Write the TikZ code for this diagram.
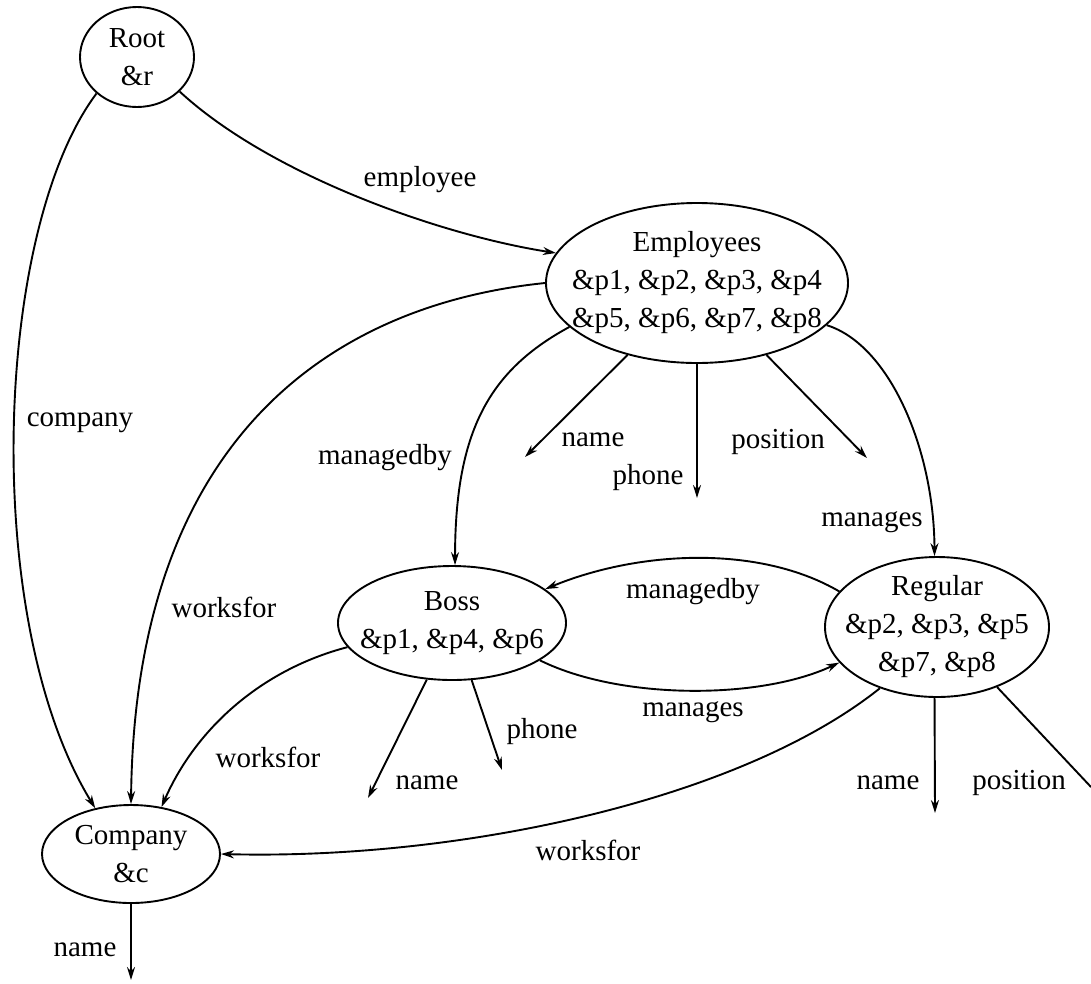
\documentclass[tikz,border=0pt]{standalone}
\usepackage{fontspec}
\setmainfont{Liberation Serif}
\usetikzlibrary{shapes.geometric,arrows.meta}
\begin{document}
\begin{tikzpicture}[x=1pt,y=-1pt,
  every node/.style={font=\fontsize{29}{38}\selectfont},
  st/.style={draw,ellipse,line width=1.9pt,inner sep=-40pt,align=center},
  lbl/.style={inner sep=0pt},
  arr/.style={line width=1.9pt,-{Stealth[length=13pt,width=8pt]}},
  ln/.style={line width=1.9pt}]
\useasboundingbox (0,0) rectangle (1091,983);
% states
\node[st,minimum width=114pt,minimum height=100pt] (root) at (137,57) {Root\\\&r};
\node[st,minimum width=302pt,minimum height=160pt] (emp) at (697,283) {Employees\\\&p1, \&p2, \&p3, \&p4\\\&p5, \&p6, \&p7, \&p8};
\node[st,minimum width=228pt,minimum height=114pt] (boss) at (452,623) {Boss\\\&p1, \&p4, \&p6};
\node[st,minimum width=224pt,minimum height=140pt] (reg) at (937,627) {Regular\\\&p2, \&p3, \&p5\\\&p7, \&p8};
\node[st,minimum width=178pt,minimum height=98pt] (comp) at (131,854) {Company\\\&c};
% free ends
\coordinate (en) at (525,457);
\coordinate (ep) at (697,498);
\coordinate (epos) at (867,458);
\coordinate (bn) at (368,798);
\coordinate (bp) at (502,770);
\coordinate (rn) at (935,813);
\coordinate (rpos) at (1091,787);
\coordinate (cn) at (131,980);
% connectors
\draw[arr] (root.-39) .. controls (270,175) and (440,235) .. (emp.168.5);
\draw[arr] (root.-138) .. controls (-6,230) and (-20,620) .. (comp.128);
\draw[arr] (emp.180) .. controls (330,305) and (135,440) .. (comp.90);
\draw[arr] (emp.-161.4) .. controls (490,370) and (455,430) .. (boss.87);
\draw[arr] (emp.-134.6) -- (en);
\draw[arr] (emp.-90) -- (ep);
\draw[arr] (emp.-46.6) -- (epos);
\draw[arr] (emp.-18.7) .. controls (890,345) and (934,450) .. (reg.92.5);
\draw[arr] (reg.160.5) .. controls (760,545) and (640,550) .. (boss.20.2);
\draw[arr] (boss.-23.2) .. controls (620,700) and (760,700) .. (reg.-160.2);
\draw[arr] (boss.-114.6) -- (bn);
\draw[arr] (boss.-71.3) -- (bp);
\draw[arr] (boss.-167.6) .. controls (260,670) and (195,730) .. (comp.57.9);
\draw[arr] (reg.-133.6) .. controls (740,800) and (460,860) .. (comp.0);
\draw[arr] (reg.-92.5) -- (rn);
\draw[ln] (reg.-45.9) -- (rpos);
\draw[arr] (comp.-90) -- (cn);
% labels
\node[lbl] (l1) at (420,180) {employee};
\node[lbl] (l2) at (80,423) {company};
\node[lbl] (l3) at (224,607) {worksfor};
\node[lbl] (l4) at (385,458) {managedby};
\node[lbl] (l5) at (593,440) {name};
\node[lbl] (l6) at (648,478) {phone};
\node[lbl] (l7) at (778,442) {position};
\node[lbl] (l8) at (872,522) {manages};
\node[lbl] (l9) at (693,592) {managedby};
\node[lbl] (l10) at (693,712) {manages};
\node[lbl] (l11) at (542,732) {phone};
\node[lbl] (l12) at (427,783) {name};
\node[lbl] (l13) at (268,757) {worksfor};
\node[lbl] (l14) at (588,850) {worksfor};
\node[lbl] (l15) at (888,783) {name};
\node[lbl] (l16) at (1019,783) {position};
\node[lbl] (l17) at (85,950) {name};
\end{tikzpicture}
\end{document}
